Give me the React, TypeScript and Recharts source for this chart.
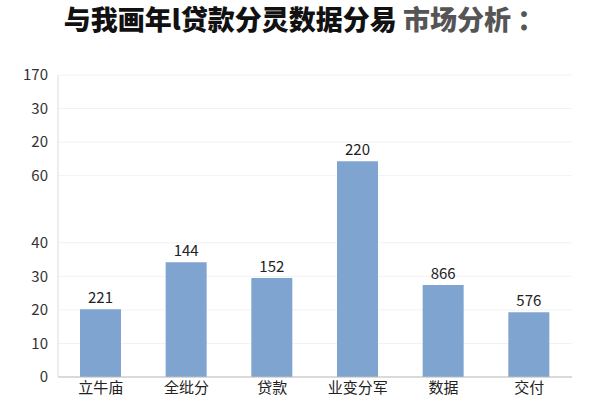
import React from 'react';
import { BarChart, Bar, XAxis, YAxis, CartesianGrid, LabelList } from 'recharts';

const categories = ['立牛庙', '全纰分', '贷款', '业变分军', '数据', '交付'];
const barValues = [20.2, 34.2, 29.5, 64.3, 27.4, 19.3];
const barLabels = ['221', '144', '152', '220', '866', '576'];
const tickValues = [0, 10, 20, 30, 40, 60, 70, 80, 90];
const tickLabels = ['0', '10', '20', '30', '40', '60', '20', '30', '170'];

const data = categories.map((name, i) => ({ name, value: barValues[i], label: barLabels[i] }));

const font = '"Noto Sans CJK SC", "Noto Sans", sans-serif';

export default function App() {
  return (
    <div style={{ position: 'absolute', left: 0, top: 0, width: 600, height: 400, background: '#fff', fontFamily: font }}>
      <div
        style={{
          position: 'absolute',
          top: 0,
          left: 4,
          width: 600,
          lineHeight: '38px',
          textAlign: 'center',
          fontSize: 27,
          fontWeight: 900,
          color: '#111',
        }}
      >
        与我画年l贷款分灵数据分易 <span style={{ color: '#555' }}>市场分析 ：</span>
      </div>
      <BarChart width={600} height={400} data={data} margin={{ top: 75, right: 28, bottom: 0, left: 0 }}>
        <CartesianGrid vertical={false} stroke="#f2f2f2" />
        <XAxis
          dataKey="name"
          height={23}
          tickSize={0}
          tickMargin={5}
          axisLine={{ stroke: '#bbb' }}
          tick={{ fill: '#222', fontSize: 15, fontFamily: font }}
        />
        <YAxis
          width={58}
          domain={[0, 90]}
          ticks={tickValues}
          interval={0}
          tickSize={0}
          tickMargin={10}
          tickFormatter={(v: number) => tickLabels[tickValues.indexOf(v)] ?? ''}
          axisLine={{ stroke: '#ddd' }}
          tick={{ fill: '#333', fontSize: 15, fontFamily: font }}
        />
        <Bar dataKey="value" fill="#80a4d0" barSize={41} isAnimationActive={false}>
          <LabelList dataKey="label" position="top" offset={6} fill="#222" fontSize={15} fontFamily={font} />
        </Bar>
      </BarChart>
    </div>
  );
}
